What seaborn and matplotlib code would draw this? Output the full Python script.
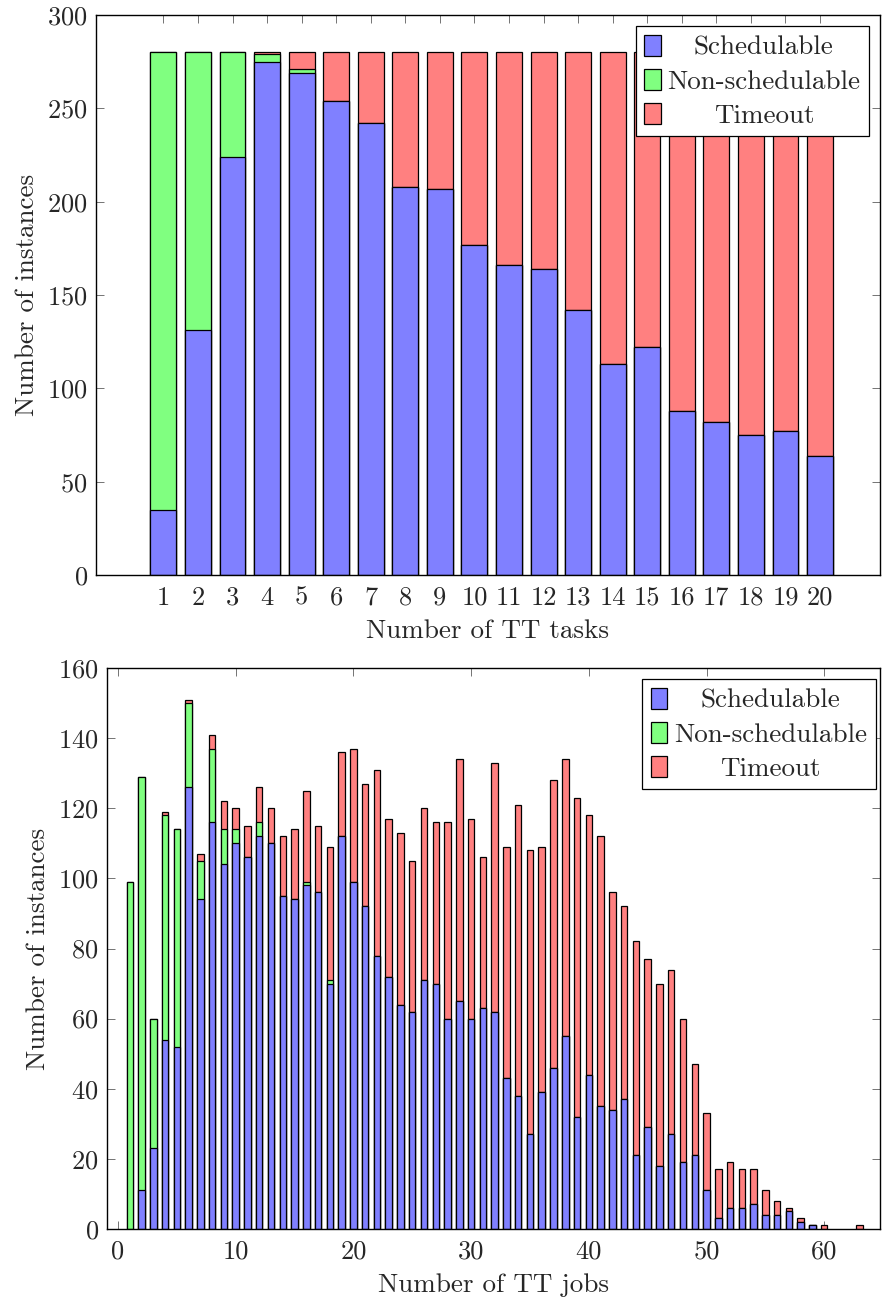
import numpy as np
import pandas as pd
import matplotlib
matplotlib.use("Agg")
import matplotlib.pyplot as plt
import seaborn as sns
from matplotlib.patches import Patch
from matplotlib.offsetbox import TextArea
from matplotlib.transforms import Bbox

# ---- data: instances per number of TT tasks (280 instances each) ----
task_counts = list(range(1, 21))
task_schedulable = [35, 131, 224, 275, 269, 254, 242, 208, 207, 177,
                    166, 164, 142, 113, 122, 88, 82, 75, 77, 64]
task_nonschedulable = [245, 149, 56, 4, 2, 0, 0, 0, 0, 0,
                       0, 0, 0, 0, 0, 0, 0, 0, 0, 0]
task_timeout = [0, 0, 0, 1, 9, 26, 38, 72, 73, 103,
                114, 116, 138, 167, 158, 192, 198, 205, 203, 216]

# ---- data: instances per number of TT jobs ----
job_counts = list(range(1, 64))
job_schedulable = [0, 11, 23, 54, 52, 126, 94, 116, 104, 110,
                   106, 112, 110, 95, 94, 98, 96, 70, 112, 99,
                   92, 78, 72, 64, 62, 71, 70, 60, 65, 60,
                   63, 62, 43, 38, 27, 39, 46, 55, 32, 44,
                   35, 34, 37, 21, 29, 18, 27, 19, 21, 11,
                   3, 6, 6, 7, 4, 4, 5, 2, 1, 0,
                   0, 0, 0]
job_nonschedulable = [99, 118, 37, 64, 62, 24, 11, 21, 10, 4,
                      0, 4, 0, 0, 0, 1, 0, 1, 0, 0,
                      0, 0, 0, 0, 0, 0, 0, 0, 0, 0,
                      0, 0, 0, 0, 0, 0, 0, 0, 0, 0,
                      0, 0, 0, 0, 0, 0, 0, 0, 0, 0,
                      0, 0, 0, 0, 0, 0, 0, 0, 0, 0,
                      0, 0, 0]
job_timeout = [0, 0, 0, 1, 0, 1, 2, 4, 8, 6,
               9, 10, 10, 17, 20, 26, 19, 38, 24, 38,
               35, 53, 45, 49, 43, 49, 46, 56, 69, 57,
               43, 71, 66, 83, 81, 70, 82, 79, 91, 74,
               77, 62, 55, 61, 48, 52, 47, 41, 26, 22,
               14, 13, 11, 10, 7, 4, 1, 1, 0, 1,
               0, 0, 1]

series_names = ["Schedulable", "Non-schedulable", "Timeout"]
series_colors = ["#8080ff", "#80ff80", "#ff8080"]

sns.set_style("ticks")
plt.rcParams["font.family"] = ["cmr10", "DejaVu Serif"]
plt.rcParams["axes.formatter.use_mathtext"] = True
plt.rcParams["mathtext.fontset"] = "cm"

TICK_FS = 19
LABEL_FS = 19.5

fig = plt.figure(figsize=(8.82, 13.01), dpi=100)
W, H = 882, 1301
ax_top = fig.add_axes([96 / W, (H - 575) / H, (880 - 96) / W, 560 / H])
ax_bot = fig.add_axes([107 / W, (H - 1229) / H, (880 - 107) / W, 561 / H])


def stacked_bars(ax, x, sched, nonsched, timeout, width):
    df = pd.DataFrame({"x": x, "s": sched, "n": nonsched, "t": timeout})
    df["sn"] = df["s"] + df["n"]
    df["snt"] = df["sn"] + df["t"]
    # draw cumulative totals back to front so the segments stack visually
    for col, color in zip(["snt", "sn", "s"], series_colors[::-1]):
        part = df[df[col] > 0]
        sns.barplot(data=part, x="x", y=col, native_scale=True, width=width,
                    color=color, saturation=1, edgecolor="black",
                    linewidth=0.9, errorbar=None, ax=ax)


def style_axes(ax):
    for sp in ax.spines.values():
        sp.set_visible(True)
        sp.set_linewidth(1.0)
        sp.set_color("black")
    ax.tick_params(direction="in", top=True, right=True, length=6,
                   width=0.7, color="0.45", labelsize=TICK_FS, pad=6)
    ax.tick_params(axis="x", pad=8)


def centered_legend(ax, anchor):
    handles = [Patch(facecolor=c, edgecolor="black", linewidth=0.9)
               for c in series_colors]
    leg = ax.legend(handles, series_names, loc="upper right",
                    bbox_to_anchor=anchor, borderaxespad=0, fontsize=LABEL_FS,
                    frameon=True, fancybox=False, framealpha=1,
                    edgecolor="black", handlelength=0.6, handleheight=0.8,
                    handletextpad=0.25, labelspacing=0.34, borderpad=0.32)
    leg.get_frame().set_linewidth(0.9)
    renderer = fig.canvas.get_renderer()
    areas = leg.findobj(match=TextArea)
    wmax = max(a.get_bbox(renderer).width for a in areas)
    for a in areas:
        a._text.set_horizontalalignment("center")
        orig = a.get_bbox

        def centered_bbox(renderer, _orig=orig, _w=wmax):
            bb = _orig(renderer)
            return Bbox.from_bounds(-_w / 2, bb.y0, _w, bb.height)

        a.get_bbox = centered_bbox
    return leg


# ---- top panel ----
stacked_bars(ax_top, task_counts, task_schedulable, task_nonschedulable,
             task_timeout, 0.75)
ax_top.set_xlim(-0.95, 21.735)
ax_top.set_ylim(0, 300)
ax_top.set_xticks(task_counts)
ax_top.set_xticklabels([str(v) for v in task_counts])
ax_top.set_yticks(np.arange(0, 301, 50))
style_axes(ax_top)
ax_top.set_xlabel("Number of TT tasks", fontsize=LABEL_FS, labelpad=7)
ax_top.set_ylabel("Number of instances", fontsize=LABEL_FS, labelpad=6)

# ---- bottom panel ----
stacked_bars(ax_bot, job_counts, job_schedulable, job_nonschedulable,
             job_timeout, 0.55)
ax_bot.set_xlim(-0.935, 64.74)
ax_bot.set_ylim(0, 160)
ax_bot.set_xticks(np.arange(0, 61, 10))
ax_bot.set_xticklabels([str(v) for v in range(0, 61, 10)])
ax_bot.set_yticks(np.arange(0, 161, 20))
style_axes(ax_bot)
ax_bot.set_xlabel("Number of TT jobs", fontsize=LABEL_FS, labelpad=7)
ax_bot.set_ylabel("Number of instances", fontsize=LABEL_FS, labelpad=6)

fig.canvas.draw()
centered_legend(ax_top, (0.986, 0.980))
centered_legend(ax_bot, (0.9944, 0.980))

fig.savefig("out.png", dpi=100)
